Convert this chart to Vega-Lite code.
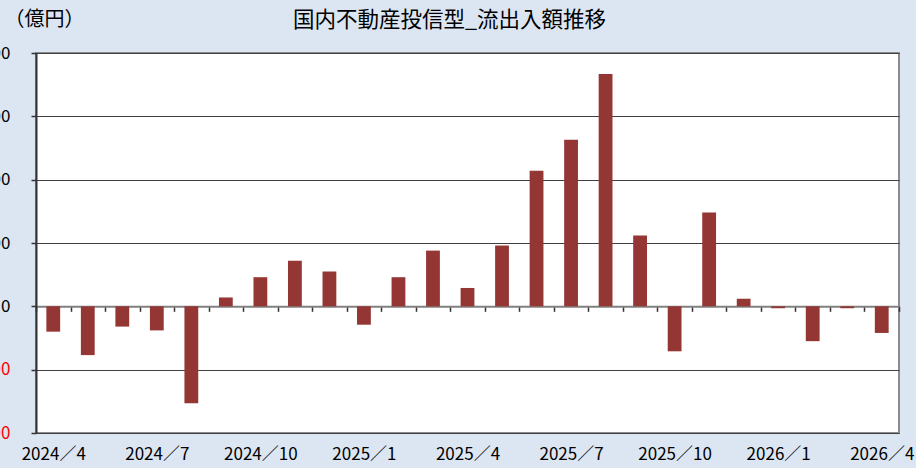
{
  "$schema": "https://vega.github.io/schema/vega-lite/v6.json",
  "autosize": "none",
  "width": 863,
  "height": 380,
  "padding": {"left": 36, "top": 53, "right": 17, "bottom": 35},
  "background": "#dce6f2",
  "title": {
    "text": "国内不動産投信型_流出入額推移",
    "font": "Noto Sans CJK JP",
    "fontSize": 21.5,
    "fontWeight": "normal",
    "color": "#000000",
    "anchor": "middle",
    "frame": "group",
    "dx": -18,
    "offset": -22
  },
  "config": {
    "view": {"fill": "#ffffff", "stroke": "#8c8c8c", "strokeWidth": 2}
  },
  "data": {
    "values": [
      {"month": "2024／4", "value": -40},
      {"month": "2024／5", "value": -77},
      {"month": "2024／6", "value": -32},
      {"month": "2024／7", "value": -38},
      {"month": "2024／8", "value": -153},
      {"month": "2024／9", "value": 14},
      {"month": "2024／10", "value": 46},
      {"month": "2024／11", "value": 72},
      {"month": "2024／12", "value": 55},
      {"month": "2025／1", "value": -29},
      {"month": "2025／2", "value": 46},
      {"month": "2025／3", "value": 88},
      {"month": "2025／4", "value": 29},
      {"month": "2025／5", "value": 96},
      {"month": "2025／6", "value": 214},
      {"month": "2025／7", "value": 263},
      {"month": "2025／8", "value": 367},
      {"month": "2025／9", "value": 112},
      {"month": "2025／10", "value": -71},
      {"month": "2025／11", "value": 148},
      {"month": "2025／12", "value": 12},
      {"month": "2026／1", "value": -3},
      {"month": "2026／2", "value": -55},
      {"month": "2026／3", "value": -3},
      {"month": "2026／4", "value": -42}
    ]
  },
  "mark": {"type": "bar", "color": "#943634", "width": {"band": 0.4}},
  "encoding": {
    "x": {
      "field": "month",
      "type": "nominal",
      "sort": null,
      "scale": {"paddingInner": 0, "paddingOuter": 0},
      "axis": {
        "title": null,
        "orient": "bottom",
        "offset": -126.67,
        "domainColor": "#808080",
        "domainWidth": 2,
        "ticks": true,
        "tickBand": "extent",
        "tickSize": 5,
        "tickColor": "#333333",
        "tickWidth": 1.5,
        "labelAngle": 0,
        "labelOverlap": false,
        "labelPadding": 135,
        "labelFont": "Noto Sans CJK JP",
        "labelFontSize": 17,
        "labelColor": "#000000",
        "labelExpr": "indexof(['2024／4','2024／7','2024／10','2025／1','2025／4','2025／7','2025／10','2026／1','2026／4'], datum.label) >= 0 ? datum.label : ''",
        "grid": false
      }
    },
    "y": {
      "field": "value",
      "type": "quantitative",
      "scale": {"domain": [-200, 400], "nice": false},
      "axis": {
        "values": [-200, -100, 0, 100, 200, 300, 400],
        "title": "（億円）",
        "titleAngle": 0,
        "titleAlign": "left",
        "titleBaseline": "middle",
        "titleX": -32,
        "titleY": -34,
        "titleFont": "Noto Sans CJK JP",
        "titleFontSize": 20,
        "titleFontWeight": "normal",
        "titleColor": "#000000",
        "grid": true,
        "gridColor": "#404040",
        "gridWidth": 1,
        "domainColor": "#333333",
        "domainWidth": 2,
        "tickSize": 5,
        "tickColor": "#333333",
        "tickWidth": 1.5,
        "labelPadding": 21,
        "labelFont": "Noto Sans CJK JP",
        "labelFontSize": 17,
        "labelColor": {"condition": {"test": "datum.value < 0", "value": "#ff0000"}, "value": "#000000"}
      }
    }
  }
}
